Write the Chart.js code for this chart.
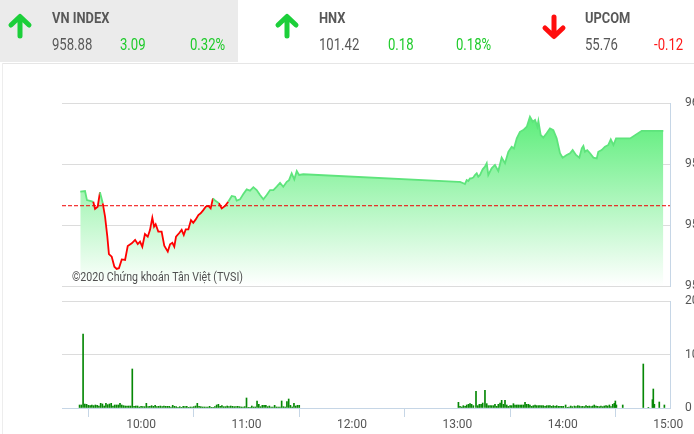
<!DOCTYPE html>
<html>
<head>
<meta charset="utf-8">
<script src="https://cdn.jsdelivr.net/npm/chart.js@4.4.0/dist/chart.umd.min.js"></script>
<style>
  html, body { margin: 0; padding: 0; background: #fff; }
  body { width: 694px; height: 434px; overflow: hidden; position: relative; font-family: Roboto, sans-serif; }
  .box { position: absolute; left: 0; top: 0; width: 238px; height: 62px; background: #ebebeb; }
  .rule-h { position: absolute; left: 2px; top: 63px; width: 692px; height: 1px; background: #e6e6e6; }
  .rule-v { position: absolute; left: 2px; top: 63px; width: 1px; height: 371px; background: #ededed; }
  .t { position: absolute; white-space: nowrap; transform-origin: 0 0; color: #585858; z-index: 2; }
  .name { font-weight: 700; font-size: 14px; line-height: 14px; top: 11px; transform: scaleX(0.92); }
  .num { font-size: 16px; line-height: 16px; top: 37px; transform: scaleX(0.82); }
  .up { color: #1ecb2a; }
  .down { color: #ff1a1a; }
  svg.arrow { position: absolute; z-index: 2; }
  canvas { position: absolute; left: 0; top: 0; }
</style>
</head>
<body>
<div class="box"></div>
<div class="rule-h"></div>
<div class="rule-v"></div>

<svg class="arrow" style="left:7px;top:13px" width="26" height="26" viewBox="0 0 26 26"><path d="M13 23V5M4 12L13 3.5L22 12" fill="none" stroke="#1ccf3a" stroke-width="5" stroke-linecap="round" stroke-linejoin="round"/></svg>
<div class="t name" style="left:52px">VN INDEX</div>
<div class="t num" style="left:52px">958.88</div>
<div class="t num up" style="left:120px">3.09</div>
<div class="t num up" style="left:190px">0.32%</div>

<svg class="arrow" style="left:274px;top:13px" width="26" height="26" viewBox="0 0 26 26"><path d="M13 23V5M4 12L13 3.5L22 12" fill="none" stroke="#1ccf3a" stroke-width="5" stroke-linecap="round" stroke-linejoin="round"/></svg>
<div class="t name" style="left:319px">HNX</div>
<div class="t num" style="left:319px">101.42</div>
<div class="t num up" style="left:388px">0.18</div>
<div class="t num up" style="left:456px">0.18%</div>

<svg class="arrow" style="left:541px;top:14px" width="26" height="26" viewBox="0 0 26 26"><path d="M13 3V21M4 14L13 22.5L22 14" fill="none" stroke="#ff0d0d" stroke-width="5" stroke-linecap="round" stroke-linejoin="round"/></svg>
<div class="t name" style="left:585px">UPCOM</div>
<div class="t num" style="left:585px">55.76</div>
<div class="t num down" style="left:654px">-0.12</div>

<canvas id="price" width="694" height="434"></canvas>
<canvas id="volume" width="694" height="434"></canvas>

<script>
// reference (previous close) and intraday index, time in minutes since midnight
const REF_PRICE = 955.79;

const PRICE_TIME = [
  565.4, 568.1, 569.2, 571.5, 572.8, 573.8, 575.3, 576.6, 578.2, 579.5,
  580.8, 581.7, 583.3, 584.8, 586.1, 587.4, 589.0, 590.9, 592.4, 594.7,
  596.6, 598.1, 599.4, 600.7, 602.2, 603.8, 605.1, 606.4, 607.4, 608.3,
  609.8, 611.7, 613.2, 615.2, 616.5, 617.8, 618.9, 619.9, 621.6, 623.1,
  624.3, 625.4, 626.9, 628.4, 629.7, 631.1, 632.6, 633.9, 635.4, 636.8,
  638.3, 639.6, 640.9, 642.5, 644.3, 645.9, 647.8, 649.6, 651.6, 653.5,
  654.4, 656.3, 658.2, 660.1, 662.0, 663.9, 665.8, 667.7, 669.6, 671.5,
  673.4, 675.3, 677.2, 679.1, 680.9, 682.9, 684.2, 685.7, 687.2, 688.6,
  689.9, 692.3,
  780.5, 781.5, 783.4, 784.3, 785.3, 786.2, 787.2, 788.1, 789.1, 790.0,
  791.0, 791.9, 792.9, 793.9, 794.4, 795.7, 796.7, 797.6, 799.5, 801.4,
  803.3, 805.2, 807.1, 809.0, 810.9, 812.2, 813.8, 815.6, 817.5, 819.5,
  821.3, 822.9, 824.2, 825.5, 826.1, 827.4, 828.9, 830.8, 832.7, 834.6,
  836.5, 838.4, 839.9, 842.2, 844.1, 845.6, 847.5, 849.4, 850.8, 851.7,
  852.6, 853.9, 855.5, 857.4, 859.3, 860.2, 862.1, 864.0, 865.9, 867.3,
  868.8, 870.3, 878.3, 884.9, 897.2
];

const PRICE_VALUE = [
  956.37, 956.39, 956.02, 955.98, 955.95, 955.66, 955.75, 956.34, 955.89, 955.34,
  954.52, 953.81, 953.70, 953.29, 953.20, 953.23, 953.59, 953.57, 954.14, 954.25,
  954.39, 954.22, 954.32, 954.11, 954.63, 954.52, 954.80, 955.30, 954.93, 955.03,
  954.73, 954.73, 954.15, 953.91, 954.21, 954.27, 954.11, 954.52, 954.66, 954.80,
  954.59, 954.82, 954.82, 955.20, 955.09, 955.23, 955.41, 955.48, 955.61, 955.75,
  955.78, 955.68, 956.09, 955.98, 955.89, 955.68, 955.78, 955.95, 956.19, 956.16,
  956.00, 956.05, 956.27, 956.46, 956.41, 956.55, 956.43, 956.23, 956.05, 956.23,
  956.43, 956.43, 956.57, 956.73, 956.57, 956.77, 956.84, 957.12, 956.87, 957.21,
  957.05, 957.08,
  956.77, 956.77, 956.71, 956.68, 956.84, 956.80, 956.91, 956.91, 956.95, 957.05,
  957.12, 956.98, 957.05, 957.21, 957.28, 957.39, 957.53, 957.05, 957.32, 957.46,
  957.21, 957.76, 957.53, 958.00, 958.21, 958.14, 958.55, 958.82, 958.89, 959.03,
  959.44, 959.23, 959.30, 959.03, 959.26, 958.69, 958.58, 958.76, 958.96, 958.89,
  958.55, 957.94, 957.76, 957.87, 957.94, 958.07, 957.87, 957.76, 958.14, 958.24,
  958.00, 958.07, 957.94, 957.76, 957.73, 958.00, 958.07, 958.21, 958.28, 958.51,
  958.28, 958.55, 958.55, 958.86, 958.86
];

const VOL_TIME = [
  565, 566, 567, 568, 569, 570, 571, 572, 573, 574,
  575, 576, 577, 578, 579, 580, 581, 582, 583, 584,
  585, 586, 587, 588, 589, 590, 591, 592, 593, 594,
  595, 596, 597, 598, 599, 600, 601, 602, 603, 604,
  605, 606, 607, 608, 609, 610, 611, 612, 613, 614,
  615, 616, 617, 618, 619, 620, 621, 622, 623, 624,
  625, 626, 627, 628, 629, 630, 631, 632, 633, 634,
  635, 636, 637, 638, 639, 640, 641, 642, 643, 644,
  645, 646, 647, 648, 649, 650, 651, 652, 653, 654,
  655, 656, 657, 658, 659, 660, 661, 662, 663, 664,
  665, 666, 667, 668, 669, 670, 671, 672, 673, 674,
  675, 676, 677, 678, 679, 680, 681, 682, 683, 684,
  685, 686, 687, 688, 689, 690,
  780.6, 781.5, 782.5, 783.4, 784.4, 785.3, 786.3, 787.2, 788.1, 789.1,
  790.6, 791.6, 792.5, 793.5, 794.4, 795.7, 796.7, 797.6, 798.6, 799.5,
  800.5, 801.4, 802.4, 803.3, 804.3, 805.2, 806.2, 807.1, 808.1, 809.0,
  810.0, 810.9, 811.9, 812.8, 813.8, 814.7, 815.7, 816.6, 817.6, 818.5,
  819.4, 820.4, 821.3, 822.3, 823.2, 824.2, 825.1, 826.1, 827.0, 828.0,
  828.9, 829.9, 830.8, 831.8, 832.7, 833.7, 834.6, 835.6, 836.5, 837.5,
  838.4, 839.4, 840.3, 841.6, 842.6, 843.5, 844.5, 845.4, 846.6, 847.5,
  848.5, 849.4, 850.4, 851.3, 852.3, 853.2, 854.2, 855.1, 856.1, 857.0,
  857.9, 858.9, 859.8, 860.8, 861.7, 862.7, 863.6, 864.6, 865.5, 866.5,
  867.4, 868.4, 869.3, 869.9, 870.5, 874.1, 885.8, 888.7, 891.0, 891.5,
  892.1, 894.9, 897.8
];

const VOL_VALUE = [
  5600, 5600, 138300, 7500, 6900, 5000, 4400, 5600, 4400, 5600,
  5000, 3700, 8700, 7500, 3700, 8700, 6200, 7500, 8700, 3700,
  5600, 5600, 5600, 8700, 5600, 4400, 3700, 3700, 3700, 3700,
  72900, 3100, 3700, 3700, 1900, 3100, 2500, 2500, 8700, 2500,
  3100, 4400, 3100, 5000, 2500, 3100, 3700, 2500, 3700, 3100,
  3100, 3100, 1900, 5000, 3100, 2500, 1200, 2500, 1200, 3100,
  2500, 3100, 1200, 1900, 1900, 2500, 3700, 8700, 3100, 2500,
  1900, 1900, 1900, 1900, 3100, 1200, 1200, 2500, 5600, 6900,
  3100, 4400, 2500, 2500, 3700, 2500, 3700, 3100, 2500, 2500,
  3100, 2500, 1900, 1900, 2500, 18700, 1200, 1200, 3700, 1900,
  1900, 13100, 6900, 2500, 5000, 5000, 5000, 2500, 3700, 1900,
  1900, 5000, 1900, 1900, 1900, 13100, 2500, 1900, 11800, 16800,
  5000, 1900, 8700, 3700, 5000, 5000,
  10600, 3100, 1900, 4400, 3100, 5600, 6900, 8100, 6900, 4400,
  31200, 4400, 6900, 6900, 9300, 33000, 8100, 4400, 4400, 4400,
  4400, 6900, 3100, 6900, 9300, 14300, 6900, 14300, 5600, 3100,
  4400, 4400, 8100, 5600, 5600, 5600, 5600, 5600, 5600, 10600,
  6900, 6900, 5600, 3100, 4400, 5600, 4400, 4400, 4400, 4400,
  4400, 3100, 4400, 4400, 4400, 3100, 4400, 3100, 4400, 3100,
  3100, 3100, 3100, 5600, 1200, 1900, 3700, 2500, 3700, 2500,
  4400, 3700, 2500, 3100, 2500, 4400, 3100, 3700, 2500, 3700,
  5600, 3700, 3100, 2500, 3700, 2500, 3700, 4400, 3700, 5600,
  2500, 6900, 8700, 13100, 5600, 5600, 82200, 1200, 15600, 35500,
  6900, 11200, 5600
];

const TIME_TICKS = [600, 660, 720, 780, 840, 900];
const TIME_LABELS = ['10:00', '11:00', '12:00', '13:00', '14:00', '15:00'];
const PRICE_TICKS = [952.5, 955, 957.5, 960];
const VOL_TICKS = [0, 100000, 200000];
const X_MIN = 555, X_MAX = 901;

const UP_LINE = '#5ee47c';
const DOWN_LINE = '#ff0000';
const AXIS_BLUE = '#c6d6e6';
const GRID_GREY = '#dcdcdc';

const pricePoints = PRICE_TIME.map((t, i) => ({ x: t, y: PRICE_VALUE[i] }));

const watermark = {
  id: 'watermark',
  afterDatasetsDraw(chart) {
    const c = chart.ctx;
    const area = chart.chartArea;
    c.save();
    c.font = '12px Roboto';
    c.fillStyle = '#505050';
    c.textBaseline = 'middle';
    c.fillText('©2020 Chứng khoán Tân Việt (TVSI)', area.left + 10, area.bottom - 8, 171);
    c.restore();
  }
};

new Chart(document.getElementById('price'), {
  type: 'line',
  data: {
    datasets: [
      // area under the index (fill only)
      {
        data: pricePoints,
        borderWidth: 0,
        borderColor: 'rgba(0,0,0,0)',
        backgroundColor: c => {
          const a = c.chart.chartArea;
          if (!a) return 'rgba(90,235,120,0.5)';
          const g = c.chart.ctx.createLinearGradient(0, a.top, 0, a.bottom);
          g.addColorStop(0, 'rgba(80,236,112,1)');
          g.addColorStop(1, 'rgba(255,255,255,1)');
          return g;
        },
        fill: 'start',
        pointRadius: 0,
        tension: 0,
        order: 3
      },
      // index line, red below the reference
      {
        data: pricePoints,
        borderWidth: 1.8,
        borderColor: UP_LINE,
        segment: {
          borderColor: c => (c.p0.parsed.y < REF_PRICE || c.p1.parsed.y < REF_PRICE) ? DOWN_LINE : UP_LINE
        },
        fill: false,
        pointRadius: 0,
        tension: 0,
        order: 2
      },
      {
        data: [{ x: X_MIN, y: REF_PRICE }, { x: X_MAX, y: REF_PRICE }],
        borderColor: '#f00000',
        borderWidth: 1,
        borderDash: [4, 2],
        pointRadius: 0,
        fill: false,
        order: 1
      }
    ]
  },
  options: {
    responsive: false,
    animation: false,
    devicePixelRatio: 1,
    layout: { padding: { left: 62, top: 103, right: 0, bottom: 148 } },
    plugins: { legend: { display: false }, tooltip: { enabled: false } },
    scales: {
      x: { type: 'linear', min: X_MIN, max: X_MAX, display: false },
      y: {
        position: 'right',
        min: 952.5,
        max: 960,
        afterBuildTicks: s => { s.ticks = PRICE_TICKS.map(v => ({ value: v })); },
        afterFit: s => { s.width = 24; },
        grid: { color: GRID_GREY, drawTicks: false },
        border: { display: true, color: AXIS_BLUE },
        ticks: { padding: 15, color: '#555', font: { family: 'Roboto', size: 12 }, callback: v => String(v) }
      }
    }
  },
  plugins: [watermark]
});

new Chart(document.getElementById('volume'), {
  type: 'bar',
  data: {
    datasets: [{
      data: VOL_TIME.map((t, i) => ({ x: t, y: VOL_VALUE[i] })),
      backgroundColor: '#068806',
      barThickness: 1
    }]
  },
  options: {
    responsive: false,
    animation: false,
    devicePixelRatio: 1,
    layout: { padding: { left: 62, top: 301, right: 0, bottom: 0 } },
    plugins: { legend: { display: false }, tooltip: { enabled: false } },
    scales: {
      x: {
        type: 'linear',
        min: X_MIN,
        max: X_MAX,
        offset: false,
        afterBuildTicks: s => { s.ticks = TIME_TICKS.map(v => ({ value: v })); },
        afterFit: s => { s.height = 26; },
        grid: { drawOnChartArea: false, drawTicks: true, tickLength: 9, color: AXIS_BLUE },
        border: { color: AXIS_BLUE },
        ticks: {
          padding: 1, color: '#555', maxRotation: 0, autoSkip: false,
          font: { family: 'Roboto', size: 12 },
          callback: v => TIME_LABELS[TIME_TICKS.indexOf(v)]
        }
      },
      y: {
        position: 'right',
        min: 0,
        max: 200000,
        afterBuildTicks: s => { s.ticks = VOL_TICKS.map(v => ({ value: v })); },
        afterFit: s => { s.width = 24; },
        grid: { color: c => c.tick.value === 0 ? AXIS_BLUE : GRID_GREY, drawTicks: false },
        border: { color: AXIS_BLUE },
        ticks: { padding: 15, color: '#555', font: { family: 'Roboto', size: 12 }, callback: v => String(v) }
      }
    }
  }
});
</script>
</body>
</html>
